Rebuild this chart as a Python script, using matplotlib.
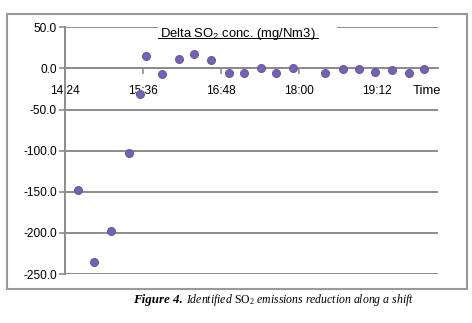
import matplotlib.pyplot as plt
from matplotlib.patches import Rectangle
from matplotlib.ticker import FixedLocator, FuncFormatter

# sample times (hh:mm) and delta SO2 concentration (mg/Nm3)
times = ["14:36", "14:51", "15:06", "15:23", "15:33", "15:39", "15:53",
         "16:09", "16:23", "16:39", "16:55", "17:09", "17:25", "17:39",
         "17:54", "18:24", "18:40", "18:55", "19:10", "19:26", "19:41",
         "19:55"]
delta_so2 = [-148, -235, -198, -103, -31, 15, -7, 11, 17, 10, -6, -5,
             0, -5, 0, -6, -1, -1, -4, -2, -6, -1]
tick_labels = ["14:24", "15:36", "16:48", "18:00", "19:12"]
y_ticks = [50, 0, -50, -100, -150, -200, -250]


def to_min(s):
    h, m = s.split(":")
    return int(h) * 60 + int(m)


x = [to_min(t) for t in times]
xt = [to_min(t) for t in tick_labels]

plt.rcParams["font.family"] = ["Liberation Sans", "DejaVu Sans"]
plt.rcParams["mathtext.fontset"] = "custom"
plt.rcParams["mathtext.rm"] = "Liberation Serif"
plt.rcParams["mathtext.sf"] = "Liberation Sans"

fig = plt.figure(figsize=(4.72, 3.23), dpi=100)
ax = fig.add_axes([0.1377, 0.1517, 0.7903, 0.7638])

grid_c = "#8c8c8c"
ax.set_ylim(-250, 50)
ax.set_xlim(xt[0], xt[0] + 344)
ax.set_yticks(y_ticks)
ax.yaxis.set_major_formatter(FuncFormatter(lambda v, p: f"{v:.1f}"))
ax.xaxis.set_major_locator(FixedLocator(xt))
ax.xaxis.set_major_formatter(FuncFormatter(
    lambda v, p: f"{int(v) // 60}:{int(v) % 60:02d}"))

ax.grid(axis="y", color=grid_c, linewidth=1.4)
ax.set_axisbelow(True)
for side in ["top", "right"]:
    ax.spines[side].set_visible(False)
ax.spines["bottom"].set_position(("data", 0))
ax.spines["bottom"].set_color(grid_c)
ax.spines["bottom"].set_linewidth(1.4)
ax.spines["left"].set_color(grid_c)
ax.spines["left"].set_linewidth(1.4)
ax.tick_params(axis="y", length=4, width=1.2, color=grid_c,
               labelsize=8.6, pad=2)
ax.tick_params(axis="x", direction="out", length=4, width=1.2,
               color=grid_c, labelsize=8.6, pad=8)

ax.scatter(x, delta_so2, s=32, color="#6a67b4", edgecolors="#7a4f9a",
           linewidths=0.8, zorder=3, clip_on=False)

ax.text(0.932, 0.742, "Time", transform=ax.transAxes, fontsize=9.4,
        ha="left", va="center")

# title box hides the top gridline
ax.add_patch(Rectangle((0.249, 0.93), 0.48, 0.12, transform=ax.transAxes,
                       facecolor="white", edgecolor="none", zorder=2,
                       clip_on=False))
ax.text(0.464, 0.961, r"Delta $\mathsf{SO_2}$ conc. (mg/Nm3)",
        transform=ax.transAxes, fontsize=9.4, ha="center", va="baseline",
        zorder=4)
ax.plot([0.249, 0.678], [0.955, 0.955], transform=ax.transAxes,
        color="black", linewidth=0.7, clip_on=False, zorder=4)

fig.patches.append(Rectangle((7 / 472, 1 - 289 / 323), 460 / 472, 275 / 323,
                             transform=fig.transFigure, fill=False,
                             edgecolor="#9a9a9a", linewidth=1.5))

fig.text(133 / 472, 1 - 303 / 323, "Figure 4.", fontsize=9.4,
         family="Liberation Serif", weight="bold", style="italic",
         ha="left", va="baseline")
fig.text(186 / 472, 1 - 303 / 323,
         r"Identified $\mathrm{SO_2}$ emissions reduction along a shift",
         fontsize=8.5, family="Liberation Serif", style="italic",
         ha="left", va="baseline")

fig.savefig("out.png", dpi=100)
